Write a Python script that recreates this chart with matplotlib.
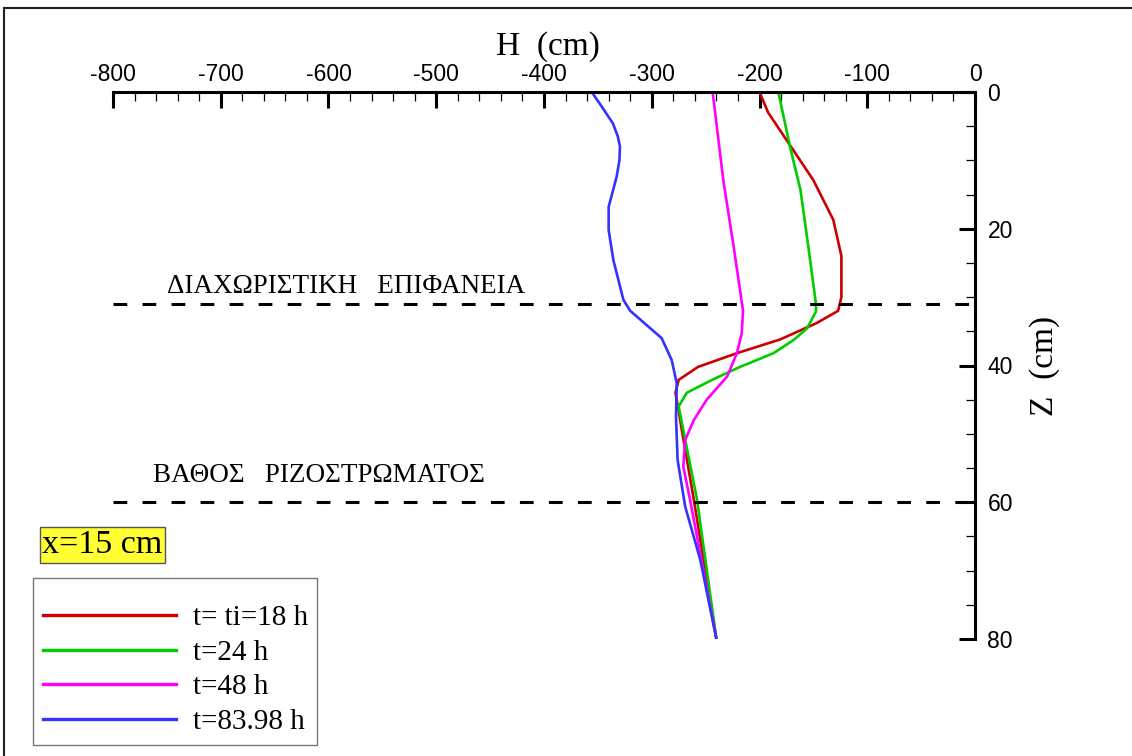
import matplotlib
matplotlib.use("Agg")
import matplotlib.pyplot as plt
from matplotlib.lines import Line2D
from matplotlib.ticker import MultipleLocator

plt.rcParams["axes.unicode_minus"] = False

# --- data: H (cm) against depth Z (cm) ---
z_18 = [0, 3, 7, 12.9, 18.7, 24, 30, 32, 33.8, 36.2, 38.2, 40.2, 42.1, 44, 59.6, 80]
h_18 = [-200, -192, -175, -150, -131.5, -124, -124, -127, -147, -181, -221, -257, -275, -278, -261, -240]

z_24 = [0, 8, 14.3, 22.6, 31, 32.1, 34.6, 36.3, 38.2, 40.2, 42.1, 44, 46, 59.6, 80]
h_24 = [-182.5, -171.7, -162, -154.7, -147.6, -147.6, -156, -168.6, -187, -218, -244, -267.6, -275, -258, -240]

z_48 = [0, 12.9, 22.6, 32, 35.3, 38.2, 41.6, 45, 48, 50.9, 54.8, 59.6, 80]
h_48 = [-243.5, -233.6, -224, -215.3, -216.5, -221, -230, -249, -261, -269, -270.7, -264.5, -240]

z_84 = [0, 2, 4.6, 6.5, 8, 10, 12.4, 16.8, 20.2, 24.6, 30.4, 32, 34.1, 36, 39.2, 42.6, 47.5, 53.8, 60.6, 68.4, 80]
h_84 = [-355.7, -347, -336, -331.5, -329.5, -330, -332.6, -340, -340, -335.6, -326.3, -320, -304.7, -290.8, -281.5, -276.8, -277.5, -276, -269, -255, -240]

labels = ["t= ti=18 h", "t=24 h", "t=48 h", "t=83.98 h"]
colors = ["#cc0000", "#00cc00", "#ff00ff", "#3333ff"]

interface_z = 31
root_z = 60

serif = "Liberation Serif"
sans = "Liberation Sans"

fig = plt.figure(figsize=(11.32, 7.56), dpi=100)
W, H = 1132, 756
ax = fig.add_axes([113 / W, 1 - 639 / H, 862 / W, 547 / H])

for zz, hh, c, lab in zip([z_18, z_24, z_48, z_84], [h_18, h_24, h_48, h_84], colors, labels):
    ax.plot(hh, zz, color=c, lw=1.9, label=lab)

for zl in [interface_z, root_z]:
    ax.plot([-800, 0], [zl, zl], color="black", lw=2.2, linestyle=(0, (4.5, 5)))

ax.text(-750, 28.5, "ΔΙΑΧΩΡΙΣΤΙΚΗ   ΕΠΙΦΑΝΕΙΑ", family=serif, fontsize=19.5, va="center")
ax.text(-763, 56.1, "ΒΑΘΟΣ   ΡΙΖΟΣΤΡΩΜΑΤΟΣ", family=serif, fontsize=19.5, va="center")

ax.set_xlim(-800, 0)
ax.set_ylim(80, 0)

for s in ["left", "bottom"]:
    ax.spines[s].set_visible(False)
for s in ["top", "right"]:
    ax.spines[s].set_linewidth(2.2)

ax.xaxis.tick_top()
ax.yaxis.tick_right()
ax.xaxis.set_major_locator(MultipleLocator(100))
ax.xaxis.set_minor_locator(MultipleLocator(20))
ax.yaxis.set_major_locator(MultipleLocator(20))
ax.yaxis.set_minor_locator(MultipleLocator(5))
ax.tick_params(which="major", direction="in", length=11.5, width=2.2, labelsize=16.5, pad=9)
ax.tick_params(which="minor", direction="in", length=6.5, width=0.9)
ax.tick_params(axis="x", which="major", pad=4)
for lab in ax.get_xticklabels() + ax.get_yticklabels():
    lab.set_family(sans)

ax.set_xlabel("H  (cm)", family=serif, fontsize=24, labelpad=6)
ax.xaxis.set_label_position("top")
ax.xaxis.label.set_position((0.505, 1))
ax.set_ylabel("Z  (cm)", family=serif, fontsize=24, labelpad=12)
ax.yaxis.set_label_position("right")

leg = fig.legend(loc="upper left", bbox_to_anchor=(33 / W, 1 - 578 / H), borderaxespad=0,
                 prop={"family": serif, "size": 21}, frameon=True, fancybox=False,
                 handlelength=4.56, handletextpad=0.58, labelspacing=0.28,
                 borderpad=0.33, title=" ", title_fontproperties={"family": serif, "size": 8})
leg.get_frame().set_edgecolor("#555555")
leg.get_frame().set_linewidth(1.0)
for ln in leg.get_lines():
    ln.set_linewidth(2.4)

fig.text(42 / W, 1 - 545 / H, "x=15 cm", family=serif, fontsize=24.5, va="center",
         bbox=dict(boxstyle="square,pad=0.07", fc="#ffff33", ec="#555555", lw=1.0))

# outer frame (top and left edges only)
fig.add_artist(Line2D([4 / W, 4 / W], [0, 1 - 8 / H], color="#222222", lw=1.5))
fig.add_artist(Line2D([4 / W, 1], [1 - 8 / H, 1 - 8 / H], color="#222222", lw=1.5))

fig.savefig("out.png", dpi=100)
